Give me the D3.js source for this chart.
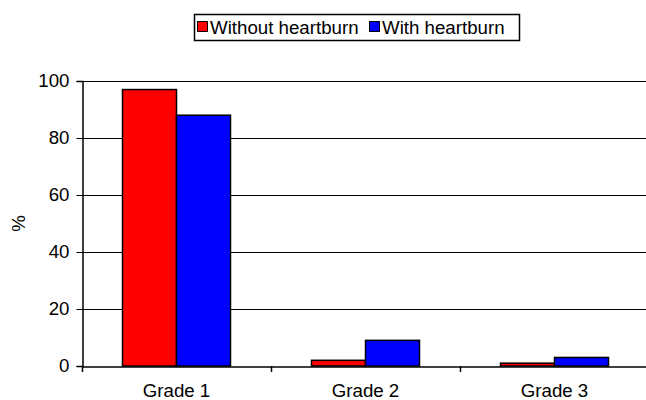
<!DOCTYPE html>
<html>
<head>
<meta charset="utf-8">
<script src="https://cdn.jsdelivr.net/npm/d3@7"></script>
<style>
  body { margin: 0; background: #fff; }
  svg { display: block; font-family: "Liberation Sans", Arial, sans-serif; }
</style>
</head>
<body>
<div id="chart"></div>
<script>
// data
const categories = ["Grade 1", "Grade 2", "Grade 3"];
const seriesNames = ["Without heartburn", "With heartburn"];
const seriesColors = ["#ff0000", "#0000ff"];
const withoutHeartburn = [97, 2, 1];
const withHeartburn = [88, 9, 3];
const yTicks = [0, 20, 40, 60, 80, 100];

const width = 646, height = 400;
const margin = { top: 81, left: 82, bottom: 34 };
const plotRight = 649; // the plot runs a little past the window edge
const fontSize = 18.7;

const svg = d3.select("#chart").append("svg")
    .attr("width", width)
    .attr("height", height);

const x = d3.scaleBand()
    .domain(categories)
    .range([margin.left, plotRight])
    .paddingInner(0)
    .paddingOuter(0);

const xSub = d3.scaleBand()
    .domain(seriesNames)
    .range([0, x.bandwidth()])
    .paddingInner(0)
    .paddingOuter(0.75);

const y = d3.scaleLinear()
    .domain([0, 100])
    .range([height - margin.bottom, margin.top]);

// gridlines
svg.append("g")
    .selectAll("line")
    .data(yTicks.filter(d => d > 0))
    .enter().append("line")
    .attr("x1", margin.left)
    .attr("x2", plotRight)
    .attr("y1", d => Math.round(y(d)) + 0.5)
    .attr("y2", d => Math.round(y(d)) + 0.5)
    .attr("stroke", "#000")
    .attr("stroke-width", 1);

// y axis
const yAxis = svg.append("g")
    .attr("transform", `translate(${margin.left + 0.5},0)`)
    .call(d3.axisLeft(y).tickValues(yTicks).tickSize(6).tickPadding(7));
yAxis.select(".domain").attr("stroke", "#000").attr("stroke-width", 1.5);
yAxis.selectAll(".tick line").attr("stroke", "#000");
yAxis.selectAll("text")
    .attr("font-size", fontSize)
    .attr("font-family", "Liberation Sans, Arial, sans-serif")
    .attr("fill", "#000");

svg.append("text")
    .attr("transform", `translate(25,${(y(0) + y(100)) / 2}) rotate(-90)`)
    .attr("text-anchor", "middle")
    .attr("font-size", fontSize)
    .text("%");

// bars
const rows = categories.map((c, i) => ({
    category: c,
    values: [withoutHeartburn[i], withHeartburn[i]]
}));

const groups = svg.append("g")
    .selectAll("g")
    .data(rows)
    .enter().append("g")
    .attr("transform", d => `translate(${x(d.category)},0)`);

groups.selectAll("rect")
    .data(d => d.values.map((v, j) => ({ name: seriesNames[j], value: v, color: seriesColors[j] })))
    .enter().append("rect")
    .attr("x", d => xSub(d.name))
    .attr("width", xSub.bandwidth())
    .attr("y", d => y(d.value))
    .attr("height", d => y(0) - y(d.value))
    .attr("fill", d => d.color)
    .attr("stroke", "#000")
    .attr("stroke-width", 1.5);

// x axis
const xAxis = svg.append("g")
    .attr("transform", `translate(0,${Math.round(y(0)) + 0.5})`)
    .call(d3.axisBottom(x).tickSize(0).tickPadding(17));
xAxis.select(".domain").attr("stroke", "#000").attr("stroke-width", 1.5);
xAxis.selectAll("text")
    .attr("font-size", fontSize)
    .attr("font-family", "Liberation Sans, Arial, sans-serif")
    .attr("fill", "#000");

// category separators
svg.append("g")
    .selectAll("line")
    .data(categories.map(c => x(c)))
    .enter().append("line")
    .attr("x1", d => Math.round(d) + 0.5)
    .attr("x2", d => Math.round(d) + 0.5)
    .attr("y1", y(0))
    .attr("y2", y(0) + 6)
    .attr("stroke", "#000")
    .attr("stroke-width", 1.5);

// legend
const legend = svg.append("g");
legend.append("rect")
    .attr("x", 194.5).attr("y", 14.5)
    .attr("width", 325).attr("height", 26)
    .attr("fill", "#fff")
    .attr("stroke", "#000")
    .attr("stroke-width", 1.5);

const legendX = [197, 369];
seriesNames.forEach((name, i) => {
    legend.append("rect")
        .attr("x", legendX[i] + 0.5).attr("y", 21.5)
        .attr("width", 10).attr("height", 10)
        .attr("fill", seriesColors[i])
        .attr("stroke", "#000")
        .attr("stroke-width", 1);
    legend.append("text")
        .attr("x", legendX[i] + 13)
        .attr("y", 34)
        .attr("font-size", fontSize)
        .text(name);
});
</script>
</body>
</html>
